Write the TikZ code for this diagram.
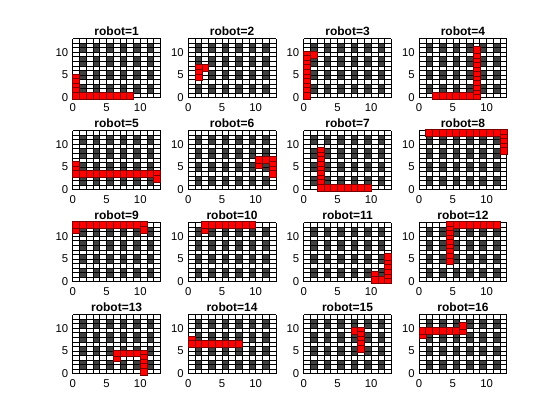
\documentclass[tikz,border=0pt]{standalone}
\usepackage{fontspec}
\setmainfont{Liberation Sans}

\tikzset{every picture/.style={line width=0.75pt}}
\definecolor{shelfgray}{RGB}{64,64,64}
\definecolor{botred}{RGB}{255,0,0}
\definecolor{botedge}{RGB}{120,0,0}
\tikzset{
  shelf/.style={fill=shelfgray},
  gridline/.style={draw=black, line width=0.5pt},
  botcell/.style={fill=botred, draw=botedge, line width=0.4pt},
  ticklabel/.style={font=\fontsize{8.5}{10}\selectfont, inner sep=0pt},
  robottitle/.style={font=\fontsize{9}{11}\selectfont\bfseries, inner sep=0pt}
}

% #1 left, #2 bottom (px), #3 robot, #4 visited cells
\newcommand{\warehouse}[4]{%
  \begin{scope}[shift={(#1,#2)}, x=5.06pt, y=-3.42pt]
    \foreach \i in {1,3,...,11}
      \foreach \j in {1,2,4,5,7,8,10,11}
        \fill[shelf] (\i,\j) rectangle ++(1,1);
    \foreach \k in {0,...,13} {
      \draw[gridline] (\k,0) -- (\k,13);
      \draw[gridline] (0,\k) -- (13,\k);
    }
    \foreach \p/\q in {#4}
      \draw[botcell] (\p+0.5,\q+0.5) ++(-2.6pt,-2.6pt) rectangle ++(5.2pt,5.2pt);
    \foreach \t in {0,5,10} {
      \node[ticklabel, anchor=north] (xt#3-\t) at (\t,0) [yshift=-4pt] {\t};
      \node[ticklabel, anchor=east] (yt#3-\t) at (0,\t) [xshift=-3pt] {\t};
    }
    \node[robottitle] (title#3) at (6.5,13) [yshift=5.5pt] {robot=#3};
  \end{scope}}

\begin{document}
\begin{tikzpicture}[
                x=0.75pt,
                y=0.75pt,
                yscale=-1,
                xscale=1,
                every node/.style={text=black},
                line width=0.75pt
            ]
                \fill[white] (0,0) rectangle (560,420);

                \warehouse{72.8}{97.8}{1}{0/4,0/3,0/2,0/1,0/0,1/0,2/0,3/0,4/0,5/0,6/0,7/0,8/0}
                \warehouse{188.2}{97.8}{2}{2/6,1/6,1/5,1/4}
                \warehouse{303.7}{97.8}{3}{1/9,0/9,0/8,0/7,0/6,0/5,0/4,0/3,0/2,0/1,0/0}
                \warehouse{419.1}{97.8}{4}{2/0,3/0,4/0,5/0,6/0,7/0,8/0,8/1,8/2,8/3,8/4,8/5,8/6,8/7,8/8,8/9,8/10}

                \warehouse{72.8}{189.8}{5}{0/5,0/4,0/3,1/3,2/3,3/3,4/3,5/3,6/3,7/3,8/3,9/3,10/3,11/3,12/3,12/2}
                \warehouse{188.2}{189.8}{6}{10/5,10/6,11/6,12/6,12/5,12/4,12/3}
                \warehouse{303.7}{189.8}{7}{2/8,2/7,2/6,2/5,2/4,2/3,2/2,2/1,2/0,3/0,4/0,5/0,6/0,7/0,8/0,9/0}
                \warehouse{419.1}{189.8}{8}{1/12,2/12,3/12,4/12,5/12,6/12,7/12,8/12,9/12,10/12,11/12,12/12,12/11,12/10,12/9,12/8}

                \warehouse{72.8}{281.8}{9}{0/11,0/12,1/12,2/12,3/12,4/12,5/12,6/12,7/12,8/12,9/12,10/12,10/11}
                \warehouse{188.2}{281.8}{10}{2/11,2/12,3/12,4/12,5/12,6/12,7/12,8/12,9/12}
                \warehouse{303.7}{281.8}{11}{10/1,10/0,11/0,12/0,12/1,12/2,12/3,12/4,12/5}
                \warehouse{419.1}{281.8}{12}{11/12,10/12,9/12,8/12,7/12,6/12,5/12,4/12,4/11,4/10,4/9,4/8,4/7,4/6,4/5,4/4}

                \warehouse{72.8}{373.8}{13}{6/3,6/4,7/4,8/4,9/4,10/4,10/3,10/2,10/1,10/0}
                \warehouse{188.2}{373.8}{14}{0/7,0/6,1/6,2/6,3/6,4/6,5/6,6/6,7/6}
                \warehouse{303.7}{373.8}{15}{7/9,8/9,8/8,8/7,8/6,8/5}
                \warehouse{419.1}{373.8}{16}{0/8,0/9,1/9,2/9,3/9,4/9,5/9,6/9,6/10}
            \end{tikzpicture}
\end{document}
